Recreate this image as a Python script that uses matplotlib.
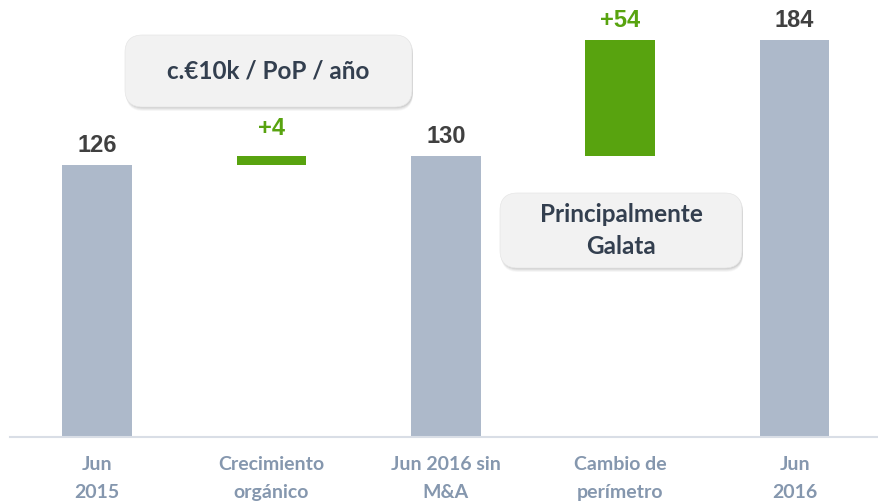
import matplotlib.pyplot as plt
from matplotlib.patches import FancyBboxPatch

categories = ['Jun\n2015', 'Crecimiento\norgánico', 'Jun 2016 sin\nM&A', 'Cambio de\nperímetro', 'Jun\n2016']
bottoms = [0, 126, 0, 130, 0]
heights = [126, 4, 130, 54, 184]
labels = ['126', '+4', '130', '+54', '184']
is_delta = [False, True, False, True, False]
label_pad = [6, 12, 6, 6, 6]  # points above bar top

GREY = '#adb9ca'
GREEN = '#58a30f'
CAT = '#8597ae'
DARK = '#404040'
BOXTXT = '#333f4f'

fig = plt.figure(figsize=(8.79, 5.04), dpi=100, facecolor='white')
ax = fig.add_axes([10 / 879, 67 / 504, 869 / 879, 437 / 504])
ax.set_xlim(-0.5, 4.484)
ax.set_ylim(0, 202.5)

x = range(len(categories))
for i in x:
    col = GREEN if is_delta[i] else GREY
    ax.bar(i, heights[i], bottom=bottoms[i], width=0.4, color=col, zorder=2)
    ax.annotate(labels[i], (i, bottoms[i] + heights[i]), xytext=(0, label_pad[i]),
                textcoords='offset points', ha='center', va='bottom',
                fontsize=17, fontweight='bold', family='Liberation Sans',
                color=GREEN if is_delta[i] else DARK)

for s in ['top', 'right', 'left']:
    ax.spines[s].set_visible(False)
ax.spines['bottom'].set_color('#d9dee6')
ax.spines['bottom'].set_linewidth(1.5)
ax.set_yticks([])
ax.set_xticks(list(x))
ax.set_xticklabels(categories, fontsize=14, fontweight='bold', family='Lato',
                   color=CAT, linespacing=1.75)
ax.tick_params(axis='x', length=0, pad=14)


def callout(x0, y0, x1, y1, text):
    # pixel coords measured from the top-left corner
    W, H = 879, 504
    fx, fy = x0 / W, 1 - y1 / H
    fw, fh = (x1 - x0) / W, (y1 - y0) / H
    for k, a in enumerate([0.05, 0.07, 0.09, 0.11]):
        off = (4 - k) / H
        sh = FancyBboxPatch((fx + 1 / W, fy - off), fw, fh,
                            boxstyle='round,pad=0,rounding_size=0.02',
                            transform=fig.transFigure, fc='#606060', ec='none',
                            alpha=a, mutation_aspect=W / H)
        fig.add_artist(sh)
    box = FancyBboxPatch((fx, fy), fw, fh, boxstyle='round,pad=0,rounding_size=0.02',
                         transform=fig.transFigure, fc='#f2f2f2', ec='#e6e6e6', lw=0.5,
                         mutation_aspect=W / H)
    fig.add_artist(box)
    fig.text(fx + fw / 2, fy + fh / 2, text, ha='center', va='center', fontsize=17.5,
             fontweight='bold', family='Lato', color=BOXTXT, linespacing=1.5)


callout(125, 35, 412, 107, 'c.€10k / PoP / año')
callout(500, 193, 742, 268, 'Principalmente\nGalata')

fig.savefig('out.png', dpi=100, facecolor='white')
